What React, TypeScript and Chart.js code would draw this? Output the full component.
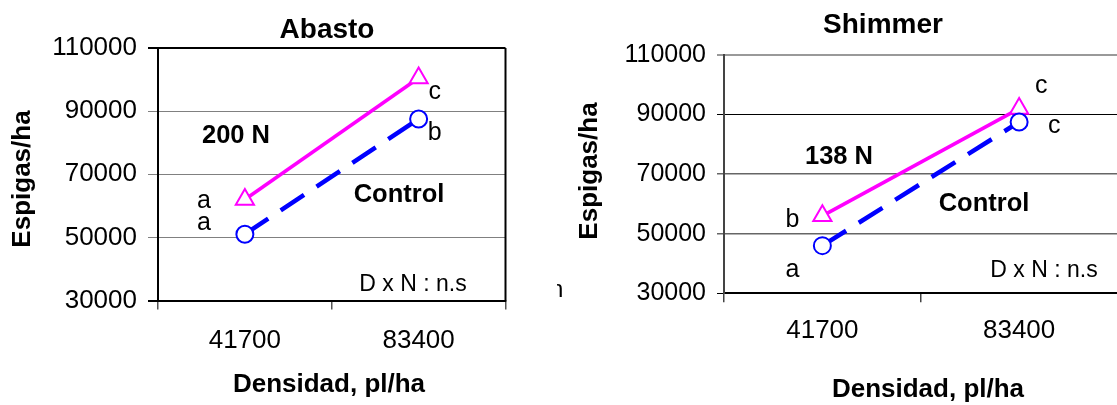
import React, { useEffect, useRef } from "react";
import { Chart, registerables } from "chart.js";

Chart.register(...registerables);

// ---------- data ----------
const categories = ["41700", "83400"];
const yTickValues = [30000, 50000, 70000, 90000, 110000];

const abastoN200 = [62000, 100500];
const abastoControl = [51000, 87500];
const abastoN200Letters = ["a", "c"];
const abastoControlLetters = ["a", "b"];

const shimmerN138 = [56000, 92000];
const shimmerControl = [46000, 87500];
const shimmerN138Letters = ["b", "c"];
const shimmerControlLetters = ["a", "c"];

// ---------- styling ----------
const FONT = "'Liberation Sans', Arial, Helvetica, sans-serif";
const MAGENTA = "#FF00FF";
const BLUE = "#0000FF";

type TextItem = {
  text: string;
  x: number;
  y: number;
  size: number;
  bold?: boolean;
  rotate?: boolean;
  align?: CanvasTextAlign;
  baseline?: CanvasTextBaseline;
};

type LetterSpec = { ds: number; idx: number; text: string; dx: number; dy: number };

type ChartSpec = {
  width: number;
  height: number;
  area: { left: number; right: number; top: number; bottom: number };
  yFont: number;
  xFont: number;
  yTickLen: number;
  xTickLen: number;
  xTickPad: number;
  yTickPad: number;
  nValues: number[];
  controlValues: number[];
  letters: LetterSpec[];
  texts: TextItem[];
  gridColor: (v: number) => string;
  gridWidth: (v: number) => number;
  yBorderColor: string;
  xBorderColor: string;
  xTickColor: string;
  drawBox: boolean;
};

function drawText(ctx: CanvasRenderingContext2D, t: TextItem) {
  ctx.save();
  ctx.fillStyle = "#000";
  ctx.font = `${t.bold ? "bold " : ""}${t.size}px ${FONT}`;
  ctx.textAlign = t.align || "center";
  ctx.textBaseline = t.baseline || "alphabetic";
  if (t.rotate) {
    ctx.translate(t.x, t.y);
    ctx.rotate(-Math.PI / 2);
    ctx.fillText(t.text, 0, 0);
  } else {
    ctx.fillText(t.text, t.x, t.y);
  }
  ctx.restore();
}

function makeConfig(spec: ChartSpec): any {
  const textPlugin = {
    id: "annotTexts",
    beforeDatasetsDraw(chart: any) {
      if (!spec.drawBox) return;
      const { ctx, chartArea } = chart;
      ctx.save();
      ctx.strokeStyle = "#000";
      ctx.lineWidth = 2;
      ctx.beginPath();
      ctx.moveTo(chartArea.right, chartArea.top);
      ctx.lineTo(chartArea.right, chartArea.bottom);
      ctx.stroke();
      ctx.restore();
    },
    afterDraw(chart: any) {
      const ctx = chart.ctx as CanvasRenderingContext2D;
      spec.texts.forEach((t) => drawText(ctx, t));
      spec.letters.forEach((l) => {
        const el = chart.getDatasetMeta(l.ds).data[l.idx];
        drawText(ctx, { text: l.text, x: el.x + l.dx, y: el.y + l.dy, size: 25 });
      });
    },
  };

  return {
    type: "line",
    data: {
      labels: categories,
      datasets: [
        {
          label: "Control",
          data: spec.controlValues,
          borderColor: BLUE,
          borderWidth: 4.5,
          borderDash: [28, 15],
          fill: false,
          tension: 0,
          pointStyle: "circle",
          pointRadius: 8.5,
          pointBorderWidth: 2,
          pointBorderColor: BLUE,
          pointBackgroundColor: "#FFFFFF",
        },
        {
          label: "N",
          data: spec.nValues,
          borderColor: MAGENTA,
          borderWidth: 3.5,
          fill: false,
          tension: 0,
          pointStyle: "triangle",
          pointRadius: 10.5,
          pointBorderWidth: 2,
          pointBorderColor: MAGENTA,
          pointBackgroundColor: "#FFFFFF",
        },
      ],
    },
    options: {
      animation: false,
      responsive: false,
      maintainAspectRatio: false,
      devicePixelRatio: 1,
      layout: {
        padding: {
          left: 0,
          top: spec.area.top,
          right: spec.width - spec.area.right,
          bottom: 0,
        },
      },
      plugins: {
        legend: { display: false },
        title: { display: false },
        tooltip: { enabled: false },
      },
      scales: {
        x: {
          type: "category",
          offset: true,
          grid: {
            offset: true,
            drawOnChartArea: false,
            drawTicks: true,
            tickLength: spec.xTickLen,
            color: spec.xTickColor,
            lineWidth: 1.5,
          },
          border: { display: true, color: spec.xBorderColor, width: 2 },
          ticks: {
            color: "#000",
            font: { family: FONT, size: spec.xFont },
            padding: spec.xTickPad,
            maxRotation: 0,
          },
          afterFit: (s: any) => {
            s.height = spec.height - spec.area.bottom;
          },
        },
        y: {
          type: "linear",
          min: 30000,
          max: 110000,
          afterBuildTicks: (s: any) => {
            s.ticks = yTickValues.map((v) => ({ value: v }));
          },
          grid: {
            color: (c: any) => spec.gridColor(c.tick ? c.tick.value : 0),
            lineWidth: (c: any) => spec.gridWidth(c.tick ? c.tick.value : 0),
            tickLength: spec.yTickLen,
            drawTicks: true,
          },
          border: { display: true, color: spec.yBorderColor, width: 2 },
          ticks: {
            color: "#000",
            font: { family: FONT, size: spec.yFont },
            padding: spec.yTickPad,
            callback: (v: any) => String(v),
          },
          afterFit: (s: any) => {
            s.width = spec.area.left;
          },
        },
      },
    },
    plugins: [textPlugin],
  };
}

const leftSpec: ChartSpec = {
  width: 560,
  height: 405,
  area: { left: 158, right: 505.5, top: 48, bottom: 300.5 },
  yFont: 26,
  xFont: 26,
  yTickLen: 10,
  xTickLen: 9,
  xTickPad: 16,
  yTickPad: 11,
  nValues: abastoN200,
  controlValues: abastoControl,
  letters: [
    { ds: 1, idx: 0, text: abastoN200Letters[0], dx: -41, dy: 8 },
    { ds: 0, idx: 0, text: abastoControlLetters[0], dx: -41, dy: -4 },
    { ds: 1, idx: 1, text: abastoN200Letters[1], dx: 16, dy: 21 },
    { ds: 0, idx: 1, text: abastoControlLetters[1], dx: 16, dy: 21 },
  ],
  texts: [
    { text: "Abasto", x: 327, y: 38, size: 28, bold: true },
    { text: "Espigas/ha", x: 23, y: 179, size: 26, bold: true, rotate: true, baseline: "middle" },
    { text: "Densidad, pl/ha", x: 329, y: 392, size: 26, bold: true },
    { text: "200 N", x: 236, y: 143, size: 25.5, bold: true },
    { text: "Control", x: 399, y: 201.5, size: 25.5, bold: true },
    { text: "D x N : n.s", x: 413, y: 290.5, size: 23 },
  ],
  gridColor: (v) => (v === 110000 || v === 30000 ? "#000000" : "#808080"),
  gridWidth: (v) => (v === 110000 || v === 30000 ? 2 : 1),
  yBorderColor: "#000000",
  xBorderColor: "#000000",
  xTickColor: "#555555",
  drawBox: true,
};

const rightSpec: ChartSpec = {
  width: 570,
  height: 405,
  area: { left: 164, right: 563, top: 55, bottom: 293.3 },
  yFont: 25,
  xFont: 26,
  yTickLen: 7,
  xTickLen: 9,
  xTickPad: 13,
  yTickPad: 11,
  nValues: shimmerN138,
  controlValues: shimmerControl,
  letters: [
    { ds: 1, idx: 0, text: shimmerN138Letters[0], dx: -30, dy: 11 },
    { ds: 0, idx: 0, text: shimmerControlLetters[0], dx: -30, dy: 31 },
    { ds: 1, idx: 1, text: shimmerN138Letters[1], dx: 22, dy: -16 },
    { ds: 0, idx: 1, text: shimmerControlLetters[1], dx: 35, dy: 11 },
  ],
  texts: [
    { text: "Shimmer", x: 323, y: 33, size: 28, bold: true },
    { text: "Espigas/ha", x: 30, y: 171, size: 26, bold: true, rotate: true, baseline: "middle" },
    { text: "Densidad, pl/ha", x: 368, y: 397, size: 26, bold: true },
    { text: "138 N", x: 279, y: 164, size: 25.5, bold: true },
    { text: "Control", x: 424, y: 210.5, size: 25.5, bold: true },
    { text: "D x N : n.s", x: 484, y: 277, size: 23 },
  ],
  gridColor: (v) =>
    v === 110000 ? "#999999" : v === 90000 || v === 30000 ? "#000000" : "#666666",
  gridWidth: (v) => (v === 110000 ? 2 : v === 90000 || v === 30000 ? 1 : 1.5),
  yBorderColor: "#444444",
  xBorderColor: "#000000",
  xTickColor: "#444444",
  drawBox: false,
};

function ChartCanvas({ spec }: { spec: ChartSpec }) {
  const ref = useRef<HTMLCanvasElement | null>(null);
  useEffect(() => {
    if (!ref.current) return;
    const chart = new Chart(ref.current, makeConfig(spec));
    return () => chart.destroy();
  }, [spec]);
  return (
    <canvas
      ref={ref}
      width={spec.width}
      height={spec.height}
      style={{ display: "block", width: spec.width, height: spec.height }}
    />
  );
}

export default function App() {
  return (
    <div
      style={{
        position: "absolute",
        left: 0,
        top: 0,
        width: 1117,
        height: 405,
        overflow: "hidden",
        background: "#FFFFFF",
      }}
    >
      <div style={{ position: "absolute", left: 0, top: 0, width: 560, height: 405 }}>
        <ChartCanvas spec={leftSpec} />
      </div>
      <div
        style={{
          position: "absolute",
          left: 557,
          top: 277,
          width: 7,
          height: 24,
          overflow: "hidden",
          fontFamily: FONT,
          fontSize: 24,
          lineHeight: "24px",
          color: "#000",
        }}
      >
        <span style={{ position: "absolute", left: -7, top: 0 }}>n</span>
      </div>
      <div
        style={{ position: "absolute", left: 560, top: 0, width: 557, height: 405, overflow: "hidden" }}
      >
        <ChartCanvas spec={rightSpec} />
      </div>
    </div>
  );
}
